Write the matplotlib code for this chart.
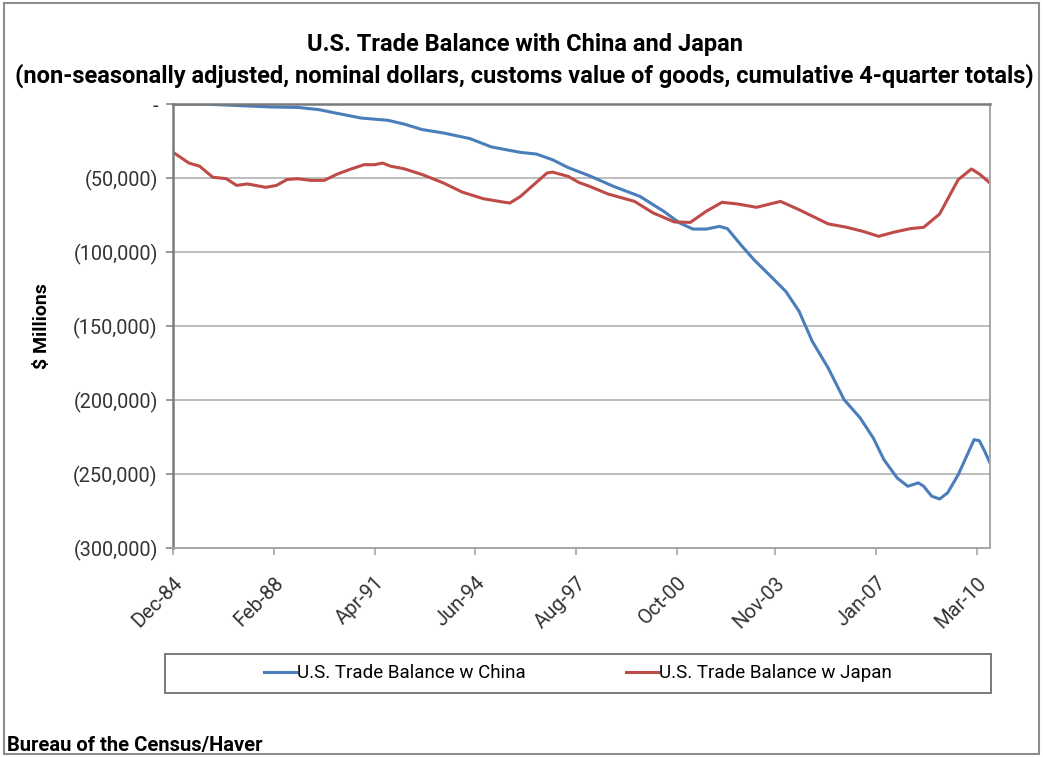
import matplotlib
matplotlib.use("Agg")
import matplotlib.pyplot as plt
import matplotlib.ticker as mticker
from matplotlib.patches import Rectangle
import pandas as pd
from datetime import datetime

# --- Data ($ millions, cumulative 4-quarter totals) ---

china_dates = [
    "1984-12", "1985-11", "1986-12", "1988-01", "1988-11", "1989-07", "1990-01",
    "1990-11", "1991-09", "1992-03", "1992-10", "1993-06", "1994-04", "1994-12",
    "1995-11", "1996-05", "1996-11", "1997-05", "1998-01", "1998-10", "1999-08",
    "2000-05", "2000-11", "2001-04", "2001-09", "2002-02", "2002-05", "2002-10",
    "2003-03", "2003-10", "2004-03", "2004-08", "2005-01", "2005-07", "2006-01",
    "2006-07", "2006-12", "2007-04", "2007-09", "2008-01", "2008-05", "2008-07",
    "2008-10", "2009-01", "2009-04", "2009-08", "2009-12", "2010-02", "2010-04",
    "2010-06", "2010-08",
]
china_balance = [
    0, 0, -1000, -2000, -2300, -3800, -6000,
    -9500, -11000, -13500, -17300, -19600, -23400, -29000,
    -32700, -33800, -37600, -43000, -48500, -55600, -62400,
    -72500, -80400, -84500, -84500, -82700, -84200, -95000,
    -105200, -117600, -126600, -140000, -160400, -178400, -199800,
    -212000, -225700, -240300, -252700, -258300, -256000, -258300,
    -265000, -266900, -262800, -250500, -234700, -226800, -227500,
    -234700, -242600,
]

japan_dates = [
    "1984-12", "1985-06", "1985-10", "1986-03", "1986-08", "1986-12", "1987-04",
    "1987-11", "1988-03", "1988-07", "1988-11", "1989-04", "1989-09", "1990-02",
    "1990-07", "1990-12", "1991-04", "1991-07", "1991-10", "1992-03", "1992-10",
    "1993-06", "1994-01", "1994-09", "1995-05", "1995-07", "1995-11", "1996-04",
    "1996-09", "1996-11", "1997-05", "1997-09", "1998-01", "1998-08", "1999-06",
    "2000-01", "2000-09", "2001-03", "2001-09", "2002-03", "2002-09", "2003-04",
    "2004-01", "2004-08", "2005-07", "2006-02", "2006-08", "2007-02", "2007-08",
    "2008-02", "2008-07", "2009-01", "2009-08", "2010-01", "2010-04", "2010-08",
]
japan_balance = [
    -32600, -39900, -42000, -49500, -50400, -55000, -54000,
    -56300, -55000, -51000, -50500, -51600, -51600, -47300,
    -44000, -41000, -41000, -39900, -42000, -43700, -47700,
    -53400, -59500, -64000, -66400, -66900, -62400, -54500,
    -46600, -46000, -48900, -53000, -55600, -60800, -65800,
    -73600, -79700, -80000, -72500, -66400, -67600, -69800,
    -65800, -71400, -81000, -83300, -86000, -89400, -86500,
    -84200, -83300, -74300, -51100, -43900, -47300, -53400,
]

tick_labels = ["Dec-84", "Feb-88", "Apr-91", "Jun-94", "Aug-97",
               "Oct-00", "Nov-03", "Jan-07", "Mar-10"]

START = pd.Period("1984-12", "M")


def month_index(dates):
    """Months elapsed since the first observation."""
    return [(pd.Period(d, "M") - START).n for d in dates]


def label_index(labels):
    return [(pd.Period(datetime.strptime(l, "%b-%y"), "M") - START).n for l in labels]


def paren_fmt(v, pos):
    if abs(v) < 1:
        return "-"
    return f"({abs(v):,.0f})"


# --- Plot ---

plt.rcParams["font.family"] = ["Roboto", "DejaVu Sans"]

BLUE = "#4A7EBB"
RED = "#BE4B48"
AXIS_GREY = "#868686"

fig = plt.figure(figsize=(10.43, 7.57), dpi=100)
ax = fig.add_axes([0.1659, 0.2761, 0.7833, 0.5865])

ax.plot(month_index(china_dates), china_balance, color=BLUE, lw=2.2,
        label="U.S. Trade Balance w China")
ax.plot(month_index(japan_dates), japan_balance, color=RED, lw=2.2,
        label="U.S. Trade Balance w Japan")

ax.set_ylim(-300000, 0)
ax.set_xlim(0, 308)
ax.yaxis.set_major_locator(mticker.MultipleLocator(50000))
ax.yaxis.set_major_formatter(mticker.FuncFormatter(paren_fmt))
ax.grid(axis="y", color="#BDBDBD", lw=1.4)
ax.set_axisbelow(True)

ax.set_xticks(label_index(tick_labels))
ax.set_xticklabels(tick_labels, rotation=45, ha="right", va="top",
                   rotation_mode="anchor")

for side in ["left", "top"]:
    ax.spines[side].set_color("#7A7A7A")
    ax.spines[side].set_linewidth(1.8)
for side in ["right", "bottom"]:
    ax.spines[side].set_color("#A6A6A6")
    ax.spines[side].set_linewidth(1.4)

ax.tick_params(axis="y", length=5, width=1.2, color=AXIS_GREY, labelsize=14.3,
               labelcolor="#333333", pad=6)
ax.tick_params(axis="x", length=5, width=1.2, color="#A6A6A6", labelsize=14.5,
               labelcolor="#333333", pad=13)

ax.set_ylabel("$ Millions", fontsize=14, fontweight="bold", labelpad=16)

fig.text(0.503, 1 - 45 / 757, "U.S. Trade Balance with China and Japan",
         ha="center", va="center", fontsize=17, fontweight="bold")
fig.text(0.503, 1 - 76 / 757,
         "(non-seasonally adjusted, nominal dollars, customs value of goods, "
         "cumulative 4-quarter totals)",
         ha="center", va="center", fontsize=17, fontweight="bold")

leg = fig.legend(loc="center", bbox_to_anchor=(165 / 1043, 1 - 693 / 757,
                                                826 / 1043, 39 / 757),
                 ncol=2, frameon=False, fontsize=13.5,
                 handlelength=1.7, handletextpad=0.1, columnspacing=5.3,
                 borderpad=0.4)
# legend box spans the full plot width
fig.patches.append(Rectangle((165 / 1043, 1 - 693 / 757), 826 / 1043, 39 / 757,
                             transform=fig.transFigure, fill=False,
                             edgecolor="#7A7A7A", lw=1.4))

fig.text(7 / 1043, 1 - 745 / 757, "Bureau of the Census/Haver",
         ha="left", va="center", fontsize=14.5, fontweight="bold")

# outer chart border
fig.patches.append(Rectangle((0.004, 0.004), 0.992, 0.992, transform=fig.transFigure,
                             fill=False, edgecolor="#8C8C8C", lw=1.5))

fig.savefig("out.png", dpi=100, facecolor="white")
